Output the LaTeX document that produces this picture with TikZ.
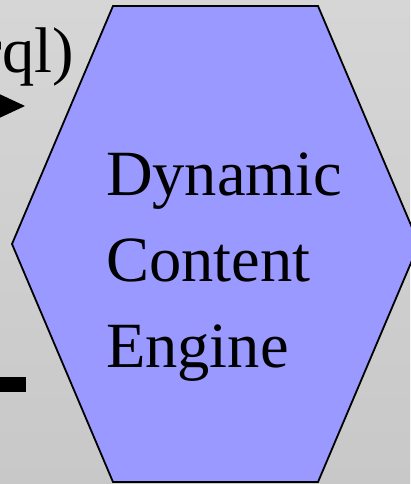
\documentclass[tikz,border=0pt]{standalone}
\usepackage{fontspec}
\setmainfont{Liberation Serif}
\begin{document}
\begin{tikzpicture}[x=1pt,y=-1pt,
  big/.style={font=\fontsize{64.5}{86}\selectfont, inner sep=0pt, outer sep=0pt},
  hexfill/.style={fill={rgb,255:red,153;green,153;blue,255}, draw=black, line width=1.8pt, line join=miter}]
\useasboundingbox (0,0) rectangle (410,484);
\shade[top color={rgb,255:red,214;green,214;blue,214}, middle color=white, bottom color={rgb,255:red,200;green,200;blue,200}] (0,0) rectangle (410,484);
% hexagon
\draw[hexfill] (113,6) -- (318,6) -- (419,244) -- (318,482) -- (113,482) -- (12,244) -- cycle;
\node[big, anchor=base west] (l1) at (106,195) {Dynamic};
\node[big, anchor=base west] (l2) at (106,281) {Content};
\node[big, anchor=base west] (l3) at (106,367) {Engine};
% partial label at top left
\node[big, anchor=base east] (q) at (74,73) {rql)};
% arrowhead and bar at left edge
\coordinate (tip) at (25,106);
\fill (tip) -- (-5,92) -- (-5,120) -- cycle;
\coordinate (barend) at (26,384.5);
\fill (-5,377) rectangle (barend |- 0,392);
\end{tikzpicture}
\end{document}
